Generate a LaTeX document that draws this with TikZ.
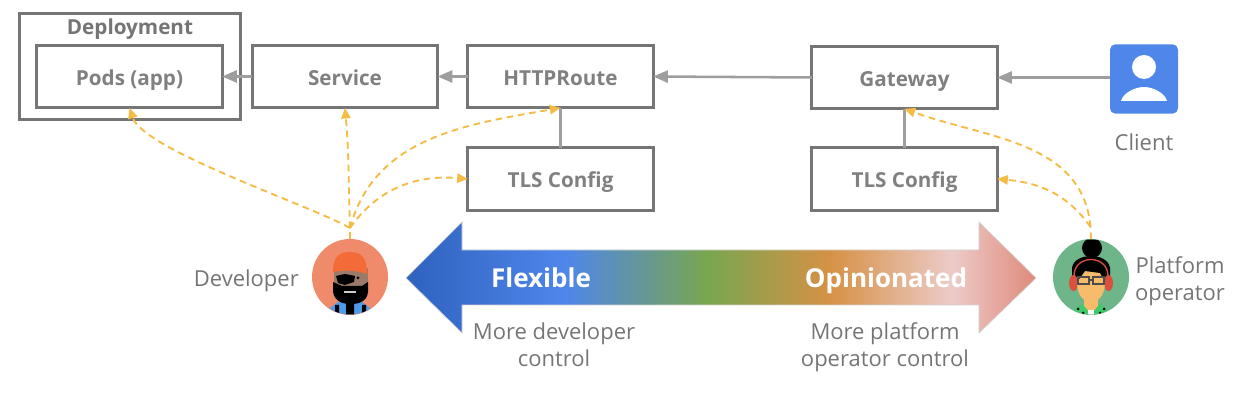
\documentclass[tikz,border=0pt]{standalone}
\usepackage{fontspec}
\setmainfont{Open Sans}
\usetikzlibrary{arrows.meta,shapes.geometric}
\definecolor{boxgray}{HTML}{757575}
\definecolor{flowgray}{HTML}{9E9E9E}
\definecolor{ctlyellow}{HTML}{F4BC45}
\definecolor{gblue}{HTML}{4F86EA}
\definecolor{spectrumblue}{HTML}{2F62BF}
\definecolor{spectrumgreen}{HTML}{78A650}
\definecolor{spectrumorange}{HTML}{D69145}
\definecolor{spectrumpink}{HTML}{ECCBC8}
\definecolor{spectrumred}{HTML}{E08A7C}
\definecolor{devround}{HTML}{EF8B6B}
\definecolor{devhat}{HTML}{F26B38}
\definecolor{devskin}{HTML}{9A7B6B}
\definecolor{devshirt}{HTML}{4F9BE8}
\definecolor{opround}{HTML}{6FB58A}
\definecolor{opskin}{HTML}{F6BC6B}
\definecolor{opphones}{HTML}{D9503F}
\definecolor{opshirt}{HTML}{3FCB6C}
\pgfdeclarehorizontalshading{spectrum}{100bp}{color(0bp)=(spectrumblue); color(25bp)=(spectrumblue); color(37.7bp)=(gblue); color(48.8bp)=(spectrumgreen); color(58.7bp)=(spectrumorange); color(68.3bp)=(spectrumpink); color(75bp)=(spectrumred); color(100bp)=(spectrumred)}
\tikzset{
	kind/.style={draw=boxgray,line width=2.2pt,fill=white,minimum width=139pt,minimum height=47pt,outer sep=0pt,text=boxgray!92,text height=13pt,text depth=0pt,font=\fontsize{15.5}{18}\selectfont\bfseries},
	flow/.style={draw=flowgray,line width=1.9pt,-{Triangle[length=11pt,width=9pt]}},
	tie/.style={draw=flowgray,line width=1.9pt},
	ctl/.style={draw=ctlyellow,line width=1.4pt,dash pattern=on 5pt off 3.5pt,-{Triangle[length=8pt,width=7pt]}},
	stem/.style={draw=ctlyellow,line width=1.4pt,dash pattern=on 5pt off 3.5pt},
	note/.style={text=boxgray,align=center,font=\fontsize{16.5}{20.5}\selectfont},
	banner/.style={text=white,font=\fontsize{19.5}{22}\selectfont\bfseries},
	portrait/.style={circle,minimum size=57pt,inner sep=0pt,outer sep=0pt}
}
\begin{document}
\begin{tikzpicture}[x=0.75pt,y=0.75pt]
	\useasboundingbox (0,0) rectangle (1254,410);
	% resource boxes
	\node[kind,minimum width=166pt,minimum height=80pt] (deployment) at (130,343.5) {};
	\node[text=boxgray,font=\fontsize{15.5}{18}\selectfont\bfseries] (deploylabel) at (130,381) {Deployment};
	\node[kind] (pods) at (129.5,333.5) {Pods (app)};
	\node[kind] (service) at (345,333.5) {Service};
	\node[kind] (route) at (560.5,333.5) {HTTPRoute};
	\node[kind] (routetls) at (560.5,231) {TLS Config};
	\node[kind] (gateway) at (904.5,332.5) {Gateway};
	\node[kind] (gatewaytls) at (904.5,231) {TLS Config};
	% client
	\node[fill=gblue,rounded corners=4pt,minimum width=51pt,minimum height=52pt,inner sep=0pt,outer sep=0pt] (client) at (1144,331) {};
	\fill[white] (1144,343) circle (12);
	\fill[white] (1121,309) .. controls (1123,317) and (1135,323) .. (1144,323) .. controls (1153,323) and (1165,317) .. (1167,309) -- cycle;
	\node[note] (clientlabel) at (1144,268) {Client};
	% spectrum arrow
	\shade[shading=spectrum,draw=gray!35,line width=0.5pt] (406,132)--(462,188)--(462,160)--(979,160)--(979,188)--(1036,132)--(979,77)--(979,105)--(462,105)--(462,77)--cycle;
	\node[banner] (flexible) at (541,132) {Flexible};
	\node[banner] (opinionated) at (886,129.5) {Opinionated};
	\node[note] (devcontrol) at (554,65.5) {More developer\\control};
	\node[note] (opcontrol) at (885,63) {More platform\\operator control};
	% developer
	\node[portrait,fill=devround] (developer) at (350,133) {};
	\node[note,anchor=east] (developerlabel) at (303.5,129.5) {Developer};
	\begin{scope}
		\clip (350,133) circle (37.5);
		\fill[devshirt] (326,99)--(338,108)--(362,108)--(374,99)--(374,90)--(326,90)--cycle;
		\fill[black] (346,92) rectangle (354,108) (335,97) rectangle (339,105) (362,97) rectangle (366,105);
		\fill[devskin] (334,120) rectangle (368,142);
		\fill[black] (333,128)--(333,118) .. controls (335,107) and (345,106) .. (351,106) .. controls (358,106) and (367,108) .. (368,118)--(368,128)--(362,124)--(342,124)--cycle;
		\fill[black] (336,134)--(345,136)--(355,134)--(354,128)--(345,125)--(338,127)--cycle;
		\fill[white!80!black] (344,117) rectangle (356,119);
		\fill[black] (358,132) circle (1.5);
		\fill[devhat] (333,138) .. controls (333,152) and (338,158) .. (350,158) .. controls (362,158) and (367,152) .. (367,136) .. controls (355,140) and (345,140) .. (333,138) -- cycle;
	\end{scope}
	% platform operator
	\node[portrait,fill=opround] (operator) at (1091,133) {};
	\node[note] (operatorlabel) at (1180,129) {Platform\\operator};
	\begin{scope}
		\clip (1091,133) circle (37.5);
		\fill[black] (1092,162) circle (10);
		\fill[black] (1072,123) -- (1072,142) .. controls (1074,158) and (1108,158) .. (1110,142) -- (1110,123) -- cycle;
		\fill[opphones] (1073.5,127) ellipse (4.5 and 8);
		\fill[opphones] (1108.5,127) ellipse (4.5 and 8);
		\fill[opskin] (1084,95) rectangle (1098,112);
		\fill[opskin] (1077,128) .. controls (1077,112) and (1086,108) .. (1091,108) .. controls (1096,108) and (1105,112) .. (1105,128) -- (1105,142) -- (1077,142) -- cycle;
		\fill[black] (1077,128)--(1077,145)--(1105,145)--(1105,128)--(1100,137)--(1085,139)--cycle;
		\draw[opphones,line width=1pt] (1074,134) .. controls (1074,156) and (1108,156) .. (1108,134);
		\draw[black!70,line width=0.8pt] (1078,126) rectangle (1089,133) (1093,126) rectangle (1104,133) (1089,130)--(1093,130);
		\fill[opshirt] (1068,95)--(1082,106)--(1091,96)--(1100,106)--(1114,95)--cycle;
		\fill[white] (1088,95) rectangle (1094,100);
		\fill[black] (1078,101) circle (1.5) (1083,97) circle (1.5) (1074,97) circle (1.5) (1104,101) circle (1.5) (1100,97) circle (1.5) (1108,97) circle (1.5);
	\end{scope}
	% request path
	\draw[flow] (client.west|-gateway.east) -- (gateway.east);
	\draw[flow] (gateway.west) -- (route.east);
	\draw[flow] (route) -- (service);
	\draw[flow] (service) -- (pods);
	\draw[tie] (route) -- (routetls);
	\draw[tie] (gateway.south) -- (gatewaytls.north);
	% who controls what
	\coordinate (devfan) at (350,182);
	\coordinate (opfan) at (1090.5,183);
	\draw[stem] (developer.north) -- (devfan);
	\draw[stem] (operator.north) -- (opfan);
	\draw[ctl] (devfan) to[out=150,in=-72,looseness=0.45] (pods.south);
	\draw[ctl] (devfan) to[out=92,in=-85] (service.south);
	\draw[ctl] (devfan) to[out=75,in=-170] (route.south);
	\draw[ctl] (devfan) to[out=55,in=175] (routetls.west);
	\draw[ctl] (opfan) to[out=95,in=-20] (gateway.south);
	\draw[ctl] (opfan) to[out=125,in=-5] (gatewaytls.east);
\end{tikzpicture}
\end{document}
